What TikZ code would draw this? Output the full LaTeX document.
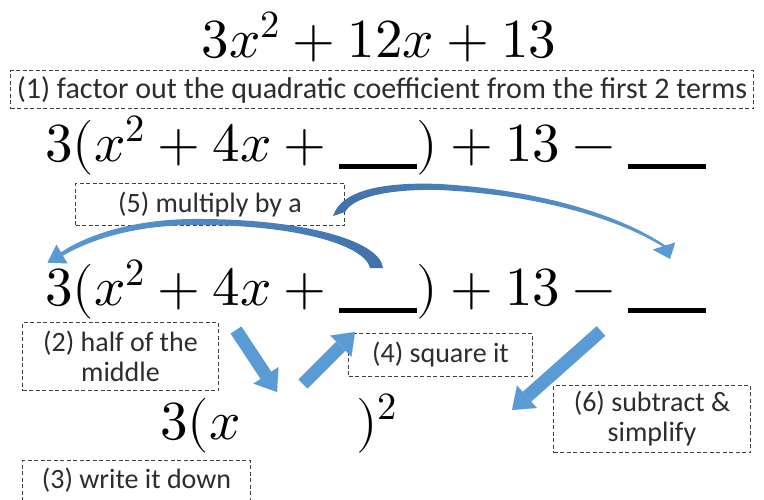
\documentclass[tikz,border=0pt]{standalone}
\usepackage{fontspec}
\usepackage{unicode-math}
\newfontfamily\labelfont{Carlito}
\usetikzlibrary{arrows.meta}
\definecolor{arrowblue}{RGB}{91,155,213}
\definecolor{arrowdark}{RGB}{65,113,170}
\definecolor{labelgray}{RGB}{45,45,45}
\newcommand\eqsize{\fontsize{55}{60}\selectfont}
\newcommand\blankline{\rule[-8pt]{78pt}{5pt}}
\begin{document}
\begin{tikzpicture}[x=1pt,y=-1pt,
  eq/.style={inner sep=0pt, font=\eqsize},
  note/.style={draw=black!75, dash pattern=on 4pt off 2.5pt, line width=1pt,
    font=\labelfont\fontsize{28}{30}\selectfont, text=labelgray, align=center,
    inner sep=0pt, anchor=north west},
  blockarrow/.style={draw=arrowblue, line width=13pt,
    -{Triangle[width=30pt,length=20pt,line width=0.1pt]}},
  lightleft/.style={left color=arrowblue, right color=arrowdark},
  darkleft/.style={left color=arrowdark, right color=arrowblue}]
\useasboundingbox (0,0) rectangle (764,499);
\clip (0,0) rectangle (764,499);

% equations
\node[eq, anchor=base] (title) at (379,57) {$3x^2+12x+13$};
\node[eq, anchor=base west] (eqtwo) at (45,161) {$3(x^2+4x+\blankline)+13-\blankline$};
\node[eq, anchor=base west] (eqthree) at (45,305) {$3(x^2+4x+\blankline)+13-\blankline$};
\node[eq, anchor=base west] (eqfour) at (160,439) {$3(x\hspace{116pt})^2$};

% notes
\node[note, minimum width=743pt, minimum height=38pt,
  font=\labelfont\fontsize{30}{32}\selectfont] (n1) at (10,70)
  {(1) factor out the quadratic coefficient from the first 2 terms};
\node[note, minimum width=269pt, minimum height=42pt] (n5) at (75,183) {(5) multiply by a};
\node[note, minimum width=196pt, minimum height=68pt] (n2) at (22,322) {(2) half of the\\middle};
\node[note, minimum width=184pt, minimum height=43pt] (n4) at (348,333) {(4) square it};
\node[note, minimum width=197pt, minimum height=67pt] (n6) at (553,385) {(6) subtract \&\\simplify};
\node[note, minimum width=228pt, minimum height=60pt, text depth=25pt] (n3) at (22,460) {(3) write it down};

% straight block arrows
\coordinate (aonetail) at (236,330);
\coordinate (aonetip) at (277,392);
\coordinate (atwotail) at (303,384);
\coordinate (atwotip) at (355,332);
\coordinate (athreetail) at (601,331);
\coordinate (athreetip) at (512,410);
\draw[blockarrow] (aonetail) -- (aonetip);
\draw[blockarrow] (atwotail) -- (atwotip);
\draw[blockarrow] (athreetail) -- (athreetip);

% curved arrow from blank back to the coefficient 3
\shade[lightleft] (383,268) .. controls (380,240) and (300,218) .. (190,219)
  .. controls (130,220) and (85,236) .. (61,252.3) -- (56.4,244.5) -- (47.4,262.7)
  -- (67.6,263.5) -- (63,255.7) .. controls (88,241) and (130,226) .. (190,225)
  .. controls (295,224) and (365,245) .. (370,268) -- cycle;

% curved arrow from note (5) to the second blank
\shade[darkleft] (333,216) .. controls (342,188) and (390,182) .. (440,184)
  .. controls (540,190) and (620,215) .. (665.4,245.5) -- (675.4,242.4) -- (670,259)
  -- (652.6,249.6) -- (662.6,246.5) .. controls (618,219) and (540,195) .. (440,190)
  .. controls (395,189) and (355,195) .. (345,212) -- cycle;
\end{tikzpicture}
\end{document}
